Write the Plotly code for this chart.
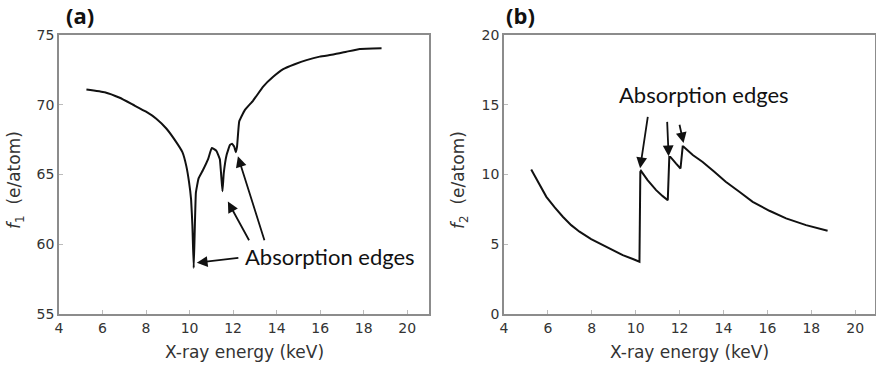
import plotly.graph_objects as go

# ---- data ----
energy_a = [5.26, 6.1, 6.79, 7.4, 8.0, 8.47, 8.93, 9.31, 9.67, 9.85,
            9.97, 10.07, 10.13, 10.19, 10.29, 10.41, 10.61, 10.85, 11.02, 11.23,
            11.39, 11.51, 11.57, 11.7, 11.85, 11.95, 12.05, 12.12, 12.18, 12.28,
            12.53, 12.92, 13.38, 13.84, 14.3, 14.83, 15.37, 15.98, 16.6, 17.2,
            17.82, 18.82]
f1_values = [71.1, 70.9, 70.5, 70.0, 69.5, 69.0, 68.3, 67.5, 66.6, 65.6,
             64.5, 63.2, 61.3, 58.3, 63.7, 64.7, 65.3, 66.1, 66.9, 66.7,
             66.1, 63.8, 65.1, 66.4, 67.1, 67.2, 67.0, 66.6, 67.0, 68.8,
             69.6, 70.3, 71.3, 72.0, 72.55, 72.9, 73.2, 73.45, 73.6, 73.8,
             74.0, 74.05]

energy_b = [5.24, 5.62, 5.93, 6.31, 6.68, 7.06, 7.44, 7.97, 8.5, 8.96,
            9.41, 9.87, 10.17, 10.21, 10.24, 10.54, 10.93, 11.23, 11.46, 11.53,
            11.58, 11.84, 12.04, 12.14, 12.17, 12.6, 13.05, 13.58, 14.1, 14.72,
            15.33, 16.09, 16.85, 17.76, 18.74]
f2_values = [10.36, 9.24, 8.4, 7.64, 6.97, 6.37, 5.9, 5.37, 4.94, 4.58,
             4.22, 3.94, 3.75, 10.19, 10.26, 9.6, 8.88, 8.45, 8.16, 11.26,
             11.26, 10.78, 10.43, 12.0, 12.0, 11.4, 10.9, 10.2, 9.48, 8.76,
             8.04, 7.4, 6.85, 6.37, 5.97]

x_ticks = [4, 6, 8, 10, 12, 14, 16, 18, 20]
y_ticks_a = [55, 60, 65, 70, 75]
y_ticks_b = [0, 5, 10, 15, 20]

W, H = 876, 368


def px(x):
    return x / W


def py(y):
    return 1 - y / H


fig = go.Figure()
fig.add_trace(go.Scatter(x=energy_a, y=f1_values, mode="lines",
                         line=dict(color="#111111", width=2, shape="spline", smoothing=0.3),
                         xaxis="x", yaxis="y"))
fig.add_trace(go.Scatter(x=energy_b, y=f2_values, mode="lines",
                         line=dict(color="#111111", width=2), xaxis="x2", yaxis="y2"))

ydom = [py(314), py(35)]
axis_common = dict(showgrid=False, zeroline=False, showline=True, linecolor="#8c8c8c",
                   linewidth=1.5, mirror=True, ticks="inside", ticklen=4, tickcolor="#bbbbbb",
                   tickfont=dict(family="DejaVu Sans", size=14, color="#333333"), automargin=False)

fig.update_layout(
    width=W, height=H, margin=dict(l=0, r=0, t=0, b=0),
    paper_bgcolor="white", plot_bgcolor="white", showlegend=False,
    xaxis=dict(domain=[px(59), px(429)], range=[4, 21], tickvals=x_ticks, anchor="y", **axis_common),
    yaxis=dict(domain=ydom, range=[55, 75], tickvals=y_ticks_a, anchor="x", **axis_common),
    xaxis2=dict(domain=[px(504), px(875)], range=[4, 20.9], tickvals=x_ticks, anchor="y2", **axis_common),
    yaxis2=dict(domain=ydom, range=[0, 20], tickvals=y_ticks_b, anchor="x2", **axis_common),
)

ann_font = dict(family="Lato", size=22, color="#111111")
title_font = dict(family="DejaVu Sans", size=17, color="#333333")
annotations = []
# panel labels
for lx, lab in [(64, "(a)"), (504, "(b)")]:
    annotations.append(dict(text="<b>%s</b>" % lab, x=px(lx), y=py(15), xref="paper", yref="paper",
                            xanchor="left", yanchor="middle", showarrow=False,
                            font=dict(family="Open Sans", size=22, color="#111111")))
# axis titles
for cx in [(59 + 429) / 2, (504 + 875) / 2]:
    annotations.append(dict(text="X-ray energy (keV)", x=px(cx), y=py(352), xref="paper", yref="paper",
                            xanchor="center", yanchor="middle", showarrow=False, font=title_font))
for tx, sub in [(16, "1"), (460, "2")]:
    annotations.append(dict(text="<i>f</i><sub>%s</sub>  (e/atom)" % sub, x=px(tx), y=py(180),
                            xref="paper", yref="paper", textangle=-90, xanchor="center",
                            yanchor="middle", showarrow=False, font=title_font))

# "Absorption edges" labels
annotations.append(dict(text="Absorption edges", x=16.45, y=59.1, xref="x", yref="y",
                        showarrow=False, font=ann_font))
annotations.append(dict(text="Absorption edges", x=13.12, y=15.7, xref="x2", yref="y2",
                        showarrow=False, font=ann_font))

arrow_style = dict(showarrow=True, arrowhead=2, arrowsize=1.2, arrowwidth=1.8,
                   arrowcolor="#111111", text="")
# panel a arrows (tail -> head)
for (tx, ty, hx, hy) in [(12.31, 59.03, 10.33, 58.67),
                         (12.77, 60.18, 11.76, 63.06),
                         (13.46, 60.18, 12.22, 66.3)]:
    annotations.append(dict(x=hx, y=hy, ax=tx, ay=ty, xref="x", yref="y", axref="x", ayref="y",
                            **arrow_style))
# panel b arrows
for (tx, ty, hx, hy) in [(10.56, 14.24, 10.2, 10.45),
                         (11.43, 13.88, 11.5, 11.3),
                         (11.98, 13.67, 12.18, 12.25)]:
    annotations.append(dict(x=hx, y=hy, ax=tx, ay=ty, xref="x2", yref="y2", axref="x2", ayref="y2",
                            **arrow_style))

fig.update_layout(annotations=annotations)
# remove the default 8px page margin so the 876x368 figure fills the window exactly
fig.write_html("out.html", config={"displayModeBar": False},
               post_script="document.body.style.margin='0px';")
